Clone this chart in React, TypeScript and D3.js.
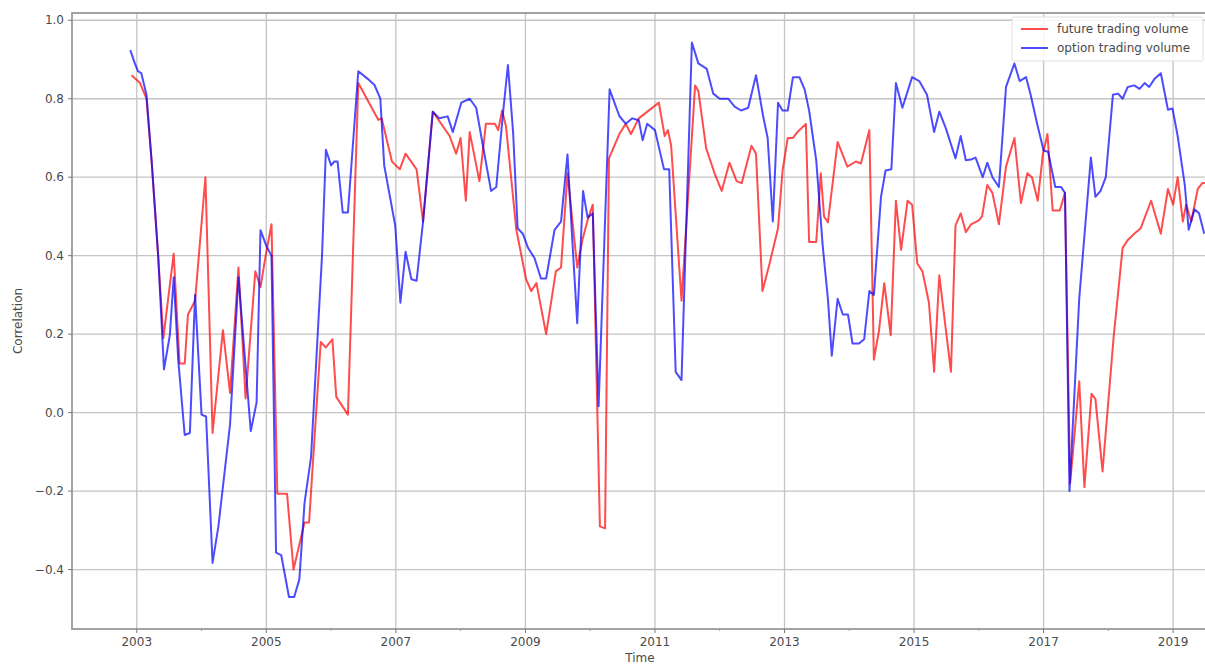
import React from "react";
import * as d3 from "d3";

const futureDates = [2002.92,2003.05,2003.15,2003.23,2003.33,2003.41,2003.57,2003.66,2003.74,2003.79,2003.90,2004.06,2004.17,2004.33,2004.44,2004.57,2004.68,2004.83,2004.91,2004.99,2005.08,2005.17,2005.32,2005.42,2005.59,2005.66,2005.84,2005.92,2006.02,2006.08,2006.26,2006.42,2006.73,2006.78,2006.94,2007.06,2007.15,2007.32,2007.42,2007.57,2007.83,2007.93,2008.00,2008.08,2008.14,2008.29,2008.39,2008.53,2008.58,2008.64,2008.70,2008.86,2009.01,2009.09,2009.17,2009.32,2009.47,2009.55,2009.65,2009.80,2009.88,2009.96,2010.04,2010.15,2010.23,2010.29,2010.45,2010.55,2010.63,2010.75,2011.06,2011.15,2011.20,2011.25,2011.41,2011.62,2011.67,2011.79,2011.92,2012.03,2012.15,2012.26,2012.34,2012.49,2012.56,2012.66,2012.77,2012.90,2012.97,2013.05,2013.13,2013.20,2013.33,2013.38,2013.49,2013.56,2013.61,2013.67,2013.82,2013.97,2014.10,2014.18,2014.31,2014.38,2014.46,2014.54,2014.64,2014.72,2014.80,2014.90,2014.97,2015.05,2015.13,2015.23,2015.31,2015.39,2015.57,2015.64,2015.72,2015.80,2015.88,2016.00,2016.05,2016.13,2016.21,2016.31,2016.42,2016.55,2016.65,2016.75,2016.82,2016.91,2016.99,2017.06,2017.14,2017.25,2017.33,2017.41,2017.55,2017.63,2017.74,2017.80,2017.91,2018.08,2018.22,2018.30,2018.40,2018.50,2018.66,2018.81,2018.92,2019.00,2019.07,2019.15,2019.20,2019.28,2019.38,2019.45,2019.52];
const futureValues = [0.86,0.84,0.80,0.64,0.40,0.19,0.405,0.125,0.125,0.25,0.285,0.60,-0.052,0.21,0.05,0.37,0.036,0.36,0.32,0.40,0.48,-0.207,-0.207,-0.40,-0.28,-0.28,0.18,0.166,0.187,0.04,-0.005,0.84,0.746,0.75,0.64,0.62,0.66,0.62,0.487,0.767,0.705,0.66,0.70,0.54,0.715,0.59,0.736,0.736,0.72,0.77,0.73,0.466,0.34,0.31,0.33,0.20,0.36,0.37,0.61,0.37,0.44,0.49,0.53,-0.29,-0.295,0.648,0.71,0.736,0.71,0.75,0.79,0.705,0.72,0.68,0.285,0.834,0.82,0.674,0.61,0.565,0.637,0.59,0.585,0.68,0.66,0.31,0.38,0.47,0.617,0.70,0.70,0.715,0.736,0.435,0.435,0.61,0.50,0.485,0.69,0.627,0.64,0.635,0.72,0.135,0.21,0.33,0.197,0.54,0.415,0.54,0.53,0.38,0.36,0.28,0.104,0.35,0.104,0.477,0.508,0.46,0.48,0.49,0.50,0.58,0.56,0.48,0.627,0.70,0.534,0.61,0.60,0.54,0.66,0.71,0.515,0.515,0.56,-0.18,0.08,-0.19,0.048,0.035,-0.15,0.19,0.42,0.44,0.456,0.47,0.54,0.456,0.57,0.53,0.60,0.487,0.53,0.487,0.57,0.585,0.585];

const optionDates = [2002.90,2002.97,2003.02,2003.07,2003.15,2003.23,2003.33,2003.42,2003.51,2003.57,2003.64,2003.74,2003.82,2003.90,2004.00,2004.07,2004.17,2004.26,2004.44,2004.57,2004.76,2004.85,2004.91,2005.00,2005.08,2005.15,2005.23,2005.35,2005.43,2005.51,2005.59,2005.69,2005.80,2005.86,2005.92,2006.00,2006.05,2006.10,2006.18,2006.26,2006.42,2006.57,2006.67,2006.76,2006.82,2006.99,2007.07,2007.15,2007.24,2007.32,2007.42,2007.57,2007.67,2007.80,2007.88,2008.01,2008.14,2008.24,2008.34,2008.47,2008.55,2008.65,2008.73,2008.81,2008.88,2008.96,2009.04,2009.14,2009.24,2009.32,2009.45,2009.55,2009.65,2009.72,2009.80,2009.89,2009.96,2010.04,2010.13,2010.30,2010.45,2010.55,2010.65,2010.75,2010.81,2010.88,2011.00,2011.14,2011.22,2011.32,2011.41,2011.57,2011.67,2011.80,2011.90,2012.00,2012.13,2012.23,2012.33,2012.44,2012.56,2012.67,2012.74,2012.82,2012.90,2012.97,2013.05,2013.13,2013.23,2013.31,2013.38,2013.49,2013.59,2013.67,2013.73,2013.82,2013.90,2013.98,2014.05,2014.15,2014.23,2014.31,2014.38,2014.49,2014.56,2014.65,2014.72,2014.82,2014.97,2015.08,2015.20,2015.31,2015.39,2015.49,2015.64,2015.72,2015.80,2015.88,2015.95,2016.06,2016.13,2016.21,2016.31,2016.42,2016.55,2016.63,2016.73,2016.80,2016.90,2017.00,2017.07,2017.18,2017.27,2017.33,2017.40,2017.55,2017.73,2017.80,2017.88,2017.96,2018.07,2018.15,2018.22,2018.30,2018.40,2018.48,2018.56,2018.63,2018.71,2018.81,2018.92,2018.99,2019.07,2019.18,2019.24,2019.33,2019.40,2019.48];
const optionValues = [0.924,0.89,0.87,0.865,0.81,0.64,0.40,0.11,0.197,0.345,0.135,-0.057,-0.052,0.30,-0.005,-0.01,-0.383,-0.29,-0.03,0.345,-0.047,0.026,0.465,0.425,0.40,-0.357,-0.363,-0.47,-0.47,-0.425,-0.23,-0.114,0.22,0.40,0.67,0.63,0.64,0.64,0.51,0.51,0.87,0.85,0.835,0.80,0.63,0.477,0.28,0.41,0.34,0.336,0.487,0.767,0.75,0.755,0.715,0.79,0.80,0.777,0.684,0.565,0.575,0.756,0.886,0.715,0.47,0.456,0.42,0.394,0.342,0.342,0.466,0.487,0.658,0.45,0.228,0.565,0.497,0.508,0.016,0.824,0.756,0.736,0.75,0.745,0.694,0.736,0.72,0.62,0.62,0.104,0.083,0.943,0.89,0.876,0.813,0.80,0.80,0.78,0.77,0.777,0.86,0.756,0.70,0.487,0.79,0.77,0.77,0.855,0.855,0.824,0.77,0.643,0.425,0.29,0.145,0.29,0.25,0.25,0.176,0.176,0.187,0.31,0.30,0.55,0.617,0.62,0.84,0.777,0.855,0.845,0.81,0.715,0.767,0.725,0.648,0.705,0.643,0.645,0.65,0.60,0.637,0.60,0.575,0.83,0.89,0.845,0.855,0.81,0.736,0.668,0.665,0.575,0.575,0.56,-0.20,0.29,0.65,0.55,0.565,0.60,0.81,0.813,0.80,0.83,0.834,0.825,0.84,0.83,0.85,0.865,0.772,0.775,0.705,0.58,0.466,0.518,0.508,0.456];

const xTickYears = [2003, 2005, 2007, 2009, 2011, 2013, 2015, 2017, 2019];
const xMinorYears = [2004, 2006, 2008, 2010, 2012, 2014, 2016, 2018];
const yTicks = [-0.4, -0.2, 0.0, 0.2, 0.4, 0.6, 0.8, 1.0];
const seriesNames = ["future trading volume", "option trading volume"];
const seriesColors = ["#ff0000", "#0000ff"];

const W = 1205, H = 664;
const left = 72, right = 1212, top = 13, bottom = 629;

export default function App() {
  const x = d3.scaleLinear().domain([2002.0, 2019.6]).range([left, right]);
  const y = d3.scaleLinear().domain([-0.5515, 1.0185]).range([bottom, top]);
  const line = d3.line<[number, number]>().x(d => x(d[0])).y(d => y(d[1]));
  const futurePts = futureDates.map((d, i) => [d, futureValues[i]] as [number, number]);
  const optionPts = optionDates.map((d, i) => [d, optionValues[i]] as [number, number]);
  const fmt = (v: number) => (v < 0 ? "\u2212" : "") + Math.abs(v).toFixed(1);
  const font = "DejaVu Sans, sans-serif";
  const gridColor = "#c4c4c4";
  const fs = 12;
  const txt = "#4a4a4a";
  return (
    <div style={{ position: "absolute", left: 0, top: 0 }}>
      <svg width={W} height={H} style={{ display: "block", background: "#fff" }} fontFamily={font}>
        <defs>
          <clipPath id="plot"><rect x={left} y={top} width={right - left} height={bottom - top} /></clipPath>
        </defs>
        {xTickYears.map(t => (
          <line key={"gx" + t} x1={x(t)} x2={x(t)} y1={top} y2={bottom} stroke={gridColor} strokeWidth={1.3} />
        ))}
        {yTicks.map(t => (
          <line key={"gy" + t} x1={left} x2={right} y1={y(t)} y2={y(t)} stroke={gridColor} strokeWidth={1.3} />
        ))}
        <g clipPath="url(#plot)" fill="none" strokeWidth={2} strokeLinejoin="round">
          <path d={line(futurePts) || ""} stroke={seriesColors[0]} strokeOpacity={0.7} />
          <path d={line(optionPts) || ""} stroke={seriesColors[1]} strokeOpacity={0.7} />
        </g>
        <rect x={left} y={top} width={right - left} height={bottom - top} fill="none" stroke="#999" strokeWidth={1.8} />
        {yTicks.map(t => (
          <g key={"ty" + t}>
            <line x1={left - 4} x2={left} y1={y(t)} y2={y(t)} stroke="#777" strokeWidth={1} />
            <text x={left - 8} y={y(t)} dy="0.35em" textAnchor="end" fontSize={fs} fill={txt}>{fmt(t)}</text>
          </g>
        ))}
        {xTickYears.map(t => (
          <g key={"tx" + t}>
            <line x1={x(t)} x2={x(t)} y1={bottom} y2={bottom + 4} stroke="#777" strokeWidth={1} />
            <text x={x(t)} y={bottom + 17} textAnchor="middle" fontSize={fs} fill={txt}>{t}</text>
          </g>
        ))}
        {xMinorYears.map(t => (
          <line key={"mx" + t} x1={x(t)} x2={x(t)} y1={bottom} y2={bottom + 2} stroke="#999" strokeWidth={1} />
        ))}
        <text x={640} y={662} textAnchor="middle" fontSize={fs} fill={txt}>Time</text>
        <text transform={`translate(22,${(top + bottom) / 2}) rotate(-90)`} textAnchor="middle" fontSize={fs} fill={txt}>Correlation</text>
        <g>
          <rect x={1012} y={17} width={191} height={44} rx={2} fill="#fff" fillOpacity={0.85} stroke="#e0e0e0" strokeWidth={1} />
          {seriesNames.map((n, i) => (
            <g key={n}>
              <line x1={1021} x2={1048} y1={29 + i * 19} y2={29 + i * 19} stroke={seriesColors[i]} strokeOpacity={0.7} strokeWidth={2} />
              <text x={1057} y={29 + i * 19} dy="0.35em" fontSize={fs} fill={txt}>{n}</text>
            </g>
          ))}
        </g>
      </svg>
    </div>
  );
}
